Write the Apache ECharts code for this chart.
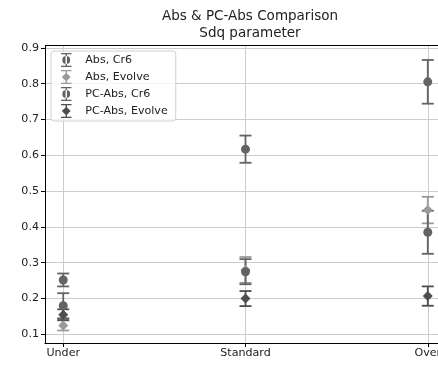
<!DOCTYPE html>
<html><head><meta charset="utf-8">
<script src="https://cdn.jsdelivr.net/npm/echarts@6/dist/echarts.min.js"></script>
<style>html,body{margin:0;padding:0;background:#fff}#c{width:438px;height:368px}</style>
</head><body><div id="c"></div>
<script>
const categories = ['Under', 'Standard', 'Over'];
const seriesNames = ['Abs, Cr6', 'Abs, Evolve', 'PC-Abs, Cr6', 'PC-Abs, Evolve'];
const absCr6 = [0.252, 0.617, 0.805];
const absCr6Err = [0.018, 0.038, 0.061];
const absEvolve = [0.125, 0.280, 0.447];
const absEvolveErr = [0.014, 0.036, 0.037];
const pcCr6 = [0.180, 0.275, 0.385];
const pcCr6Err = [0.035, 0.035, 0.060];
const pcEvolve = [0.155, 0.200, 0.207];
const pcEvolveErr = [0.015, 0.021, 0.027];
const yTicks = [0.1, 0.2, 0.3, 0.4, 0.5, 0.6, 0.7, 0.8, 0.9];
const xTicks = [0, 1, 2];

const values = [absCr6, absEvolve, pcCr6, pcEvolve];
const errors = [absCr6Err, absEvolveErr, pcCr6Err, pcEvolveErr];
const colors = ['#636363', '#9a9a9a', '#636363', '#4e4e4e'];
const shapes = ['circle', 'diamond', 'circle', 'diamond'];

const bar = 'M5.2,0h1.6v16h-1.6Z M0,0h12v1.5h-12Z M0,14.5h12v1.5h-12Z ';
const circ = 'M1.5,8a4.5,4.5 0 1,0 9,0a4.5,4.5 0 1,0 -9,0Z';
const diam = 'M6,3L11,8L6,13L1,8Z';
const icons = shapes.map(s => 'path://' + bar + (s === 'circle' ? circ : diam));

const series = [];
values.forEach((vals, i) => {
  series.push({
    type: 'custom',
    name: seriesNames[i] + ' err',
    xAxisIndex: 0, yAxisIndex: 0,
    data: vals.map((v, j) => [j, v - errors[i][j], v + errors[i][j]]),
    renderItem: function (params, api) {
      const x = api.value(0);
      const lo = api.coord([x, api.value(1)]);
      const hi = api.coord([x, api.value(2)]);
      const st = { stroke: colors[i], lineWidth: 1.8 };
      return { type: 'group', children: [
        { type: 'line', shape: { x1: lo[0], y1: lo[1], x2: hi[0], y2: hi[1] }, style: st },
        { type: 'line', shape: { x1: lo[0] - 6, y1: lo[1], x2: lo[0] + 6, y2: lo[1] }, style: st },
        { type: 'line', shape: { x1: hi[0] - 6, y1: hi[1], x2: hi[0] + 6, y2: hi[1] }, style: st }
      ]};
    },
    silent: true, animation: false
  });
  series.push({
    type: 'scatter',
    name: seriesNames[i],
    data: vals.map((v, j) => [j, v]),
    symbol: shapes[i],
    symbolSize: shapes[i] === 'circle' ? 9 : 10,
    itemStyle: { color: colors[i], opacity: 1 },
    animation: false
  });
});

const chart = echarts.init(document.getElementById('c'), null, { renderer: 'canvas' });
chart.setOption({
  backgroundColor: '#fff',
  title: {
    text: 'Abs & PC-Abs Comparison\nSdq parameter',
    left: 245, top: 3, textAlign: 'center',
    textStyle: { fontFamily: 'DejaVu Sans', fontSize: 13.5, fontWeight: 'normal', color: '#222', lineHeight: 17 }
  },
  legend: {
    data: seriesNames.map((n, i) => ({ name: n, icon: icons[i], itemStyle: { color: colors[i] } })),
    orient: 'vertical', left: 51, top: 51,
    itemWidth: 12, itemHeight: 14, itemGap: 3,
    padding: [2, 8, 3, 10],
    backgroundColor: 'rgba(255,255,255,0.8)', borderColor: '#d0d0d0', borderWidth: 1, borderRadius: 3,
    textStyle: { fontFamily: 'DejaVu Sans', fontSize: 11.1, color: '#222', padding: [0, 0, 0, 8] }
  },
  grid: { left: 45, right: -8, top: 46, bottom: 25, containLabel: false, outerBoundsMode: 'none' },
  xAxis: {
    type: 'value', min: -0.1, max: 2.1,
    axisLine: { show: true, onZero: false, lineStyle: { color: '#000', width: 1 } },
    axisTick: { show: true, customValues: xTicks, length: 4, lineStyle: { color: '#000' } },
    axisLabel: { customValues: xTicks, formatter: v => categories[Math.round(v)], fontFamily: 'DejaVu Sans', fontSize: 11.1, color: '#222', margin: 5, hideOverlap: false },
    splitLine: { show: true, lineStyle: { color: '#cccccc', width: 1 } }
  },
  yAxis: {
    type: 'value', min: 0.076, max: 0.905,
    axisLine: { show: true, onZero: false, lineStyle: { color: '#000', width: 1 } },
    axisTick: { show: true, customValues: yTicks, length: 4, lineStyle: { color: '#000' } },
    axisLabel: { customValues: yTicks, formatter: v => v.toFixed(1), fontFamily: 'DejaVu Sans', fontSize: 11.1, color: '#222', margin: 6 },
    splitLine: { show: true, lineStyle: { color: '#cccccc', width: 1 } }
  },
  graphic: [{
    type: 'line', z: 10, silent: true,
    shape: { x1: 45, y1: 45.5, x2: 438, y2: 45.5 },
    style: { stroke: '#000', lineWidth: 1 }
  }],
  series: series
});
</script></body></html>
